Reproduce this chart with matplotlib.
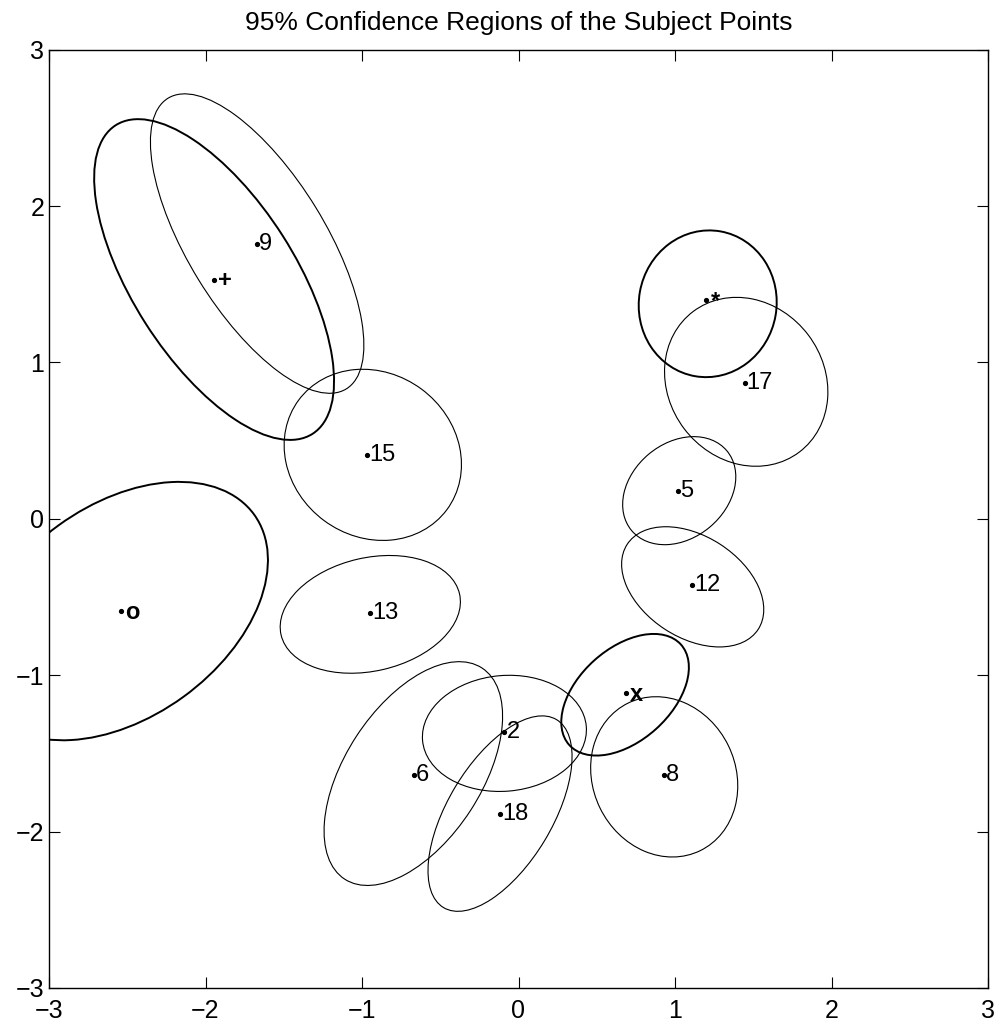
import matplotlib
matplotlib.use("Agg")
from matplotlib import pyplot as plt
from matplotlib.patches import Ellipse

plt.rcParams["font.family"] = ["Liberation Sans", "DejaVu Sans"]

# subject points (centres of the confidence ellipses)
labels = ["+", "9", "*", "17", "15", "5", "12", "o", "13", "x", "8", "2", "6", "18"]
px = [-1.945, -1.67, 1.20, 1.445, -0.97, 1.02, 1.107, -2.54, -0.95, 0.685, 0.93, -0.09, -0.67, -0.12]
py = [1.53, 1.76, 1.40, 0.87, 0.41, 0.175, -0.425, -0.59, -0.605, -1.117, -1.64, -1.366, -1.635, -1.89]

# ellipse centres, semi axes and orientation (degrees)
ex = [-1.945, -1.67, 1.209, 1.455, -0.931, 1.027, 1.113, -2.54, -0.947, 0.681, 0.931, -0.09, -0.672, -0.118]
ey = [1.53, 1.76, 1.375, 0.876, 0.409, 0.18, -0.435, -0.59, -0.611, -1.125, -1.65, -1.372, -1.629, -1.885]
semi_a = [1.17, 1.09, 0.47, 0.563, 0.589, 0.397, 0.499, 1.051, 0.585, 0.48, 0.525, 0.525, 0.805, 0.701]
semi_b = [0.52, 0.44, 0.44, 0.497, 0.523, 0.304, 0.324, 0.678, 0.362, 0.295, 0.456, 0.37, 0.435, 0.333]
angles = [122.5, 121.5, 80, 127, 143.5, 40, -33, 36, 13, 42, 116, 5, 57, 59]
thick = [True, False, True, False, False, False, False, True, False, True, False, False, False, False]

fig = plt.figure(figsize=(10, 10.3), dpi=100)
ax = fig.add_axes([0.049, 0.0408, 0.939, 0.911])

for i in range(len(labels)):
    lw = 1.4 if thick[i] else 0.8
    e = Ellipse((ex[i], ey[i]), 2 * semi_a[i], 2 * semi_b[i], angle=angles[i],
                fill=False, edgecolor="black", linewidth=lw)
    ax.add_patch(e)

ax.plot(px, py, ".", color="black", markersize=5.5)
for i in range(len(labels)):
    if thick[i]:
        ax.annotate(labels[i], (px[i], py[i]), xytext=(3, -1), textcoords="offset points",
                    va="center", ha="left", fontsize=17, fontweight="bold")
    else:
        ax.annotate(labels[i], (px[i], py[i]), xytext=(1.5, 0), textcoords="offset points",
                    va="center", ha="left", fontsize=17)

ax.set_xlim(-3, 3)
ax.set_ylim(-3, 3)
ax.set_xticks([-3, -2, -1, 0, 1, 2, 3])
ax.set_yticks([-3, -2, -1, 0, 1, 2, 3])
ax.tick_params(direction="in", length=8, top=True, right=True, labelsize=18, width=0.8)
ax.tick_params(axis="x", pad=8)
for s in ax.spines.values():
    s.set_linewidth(1.0)
ax.set_title("95% Confidence Regions of the Subject Points", fontsize=19, pad=14)

plt.savefig("out.png")
